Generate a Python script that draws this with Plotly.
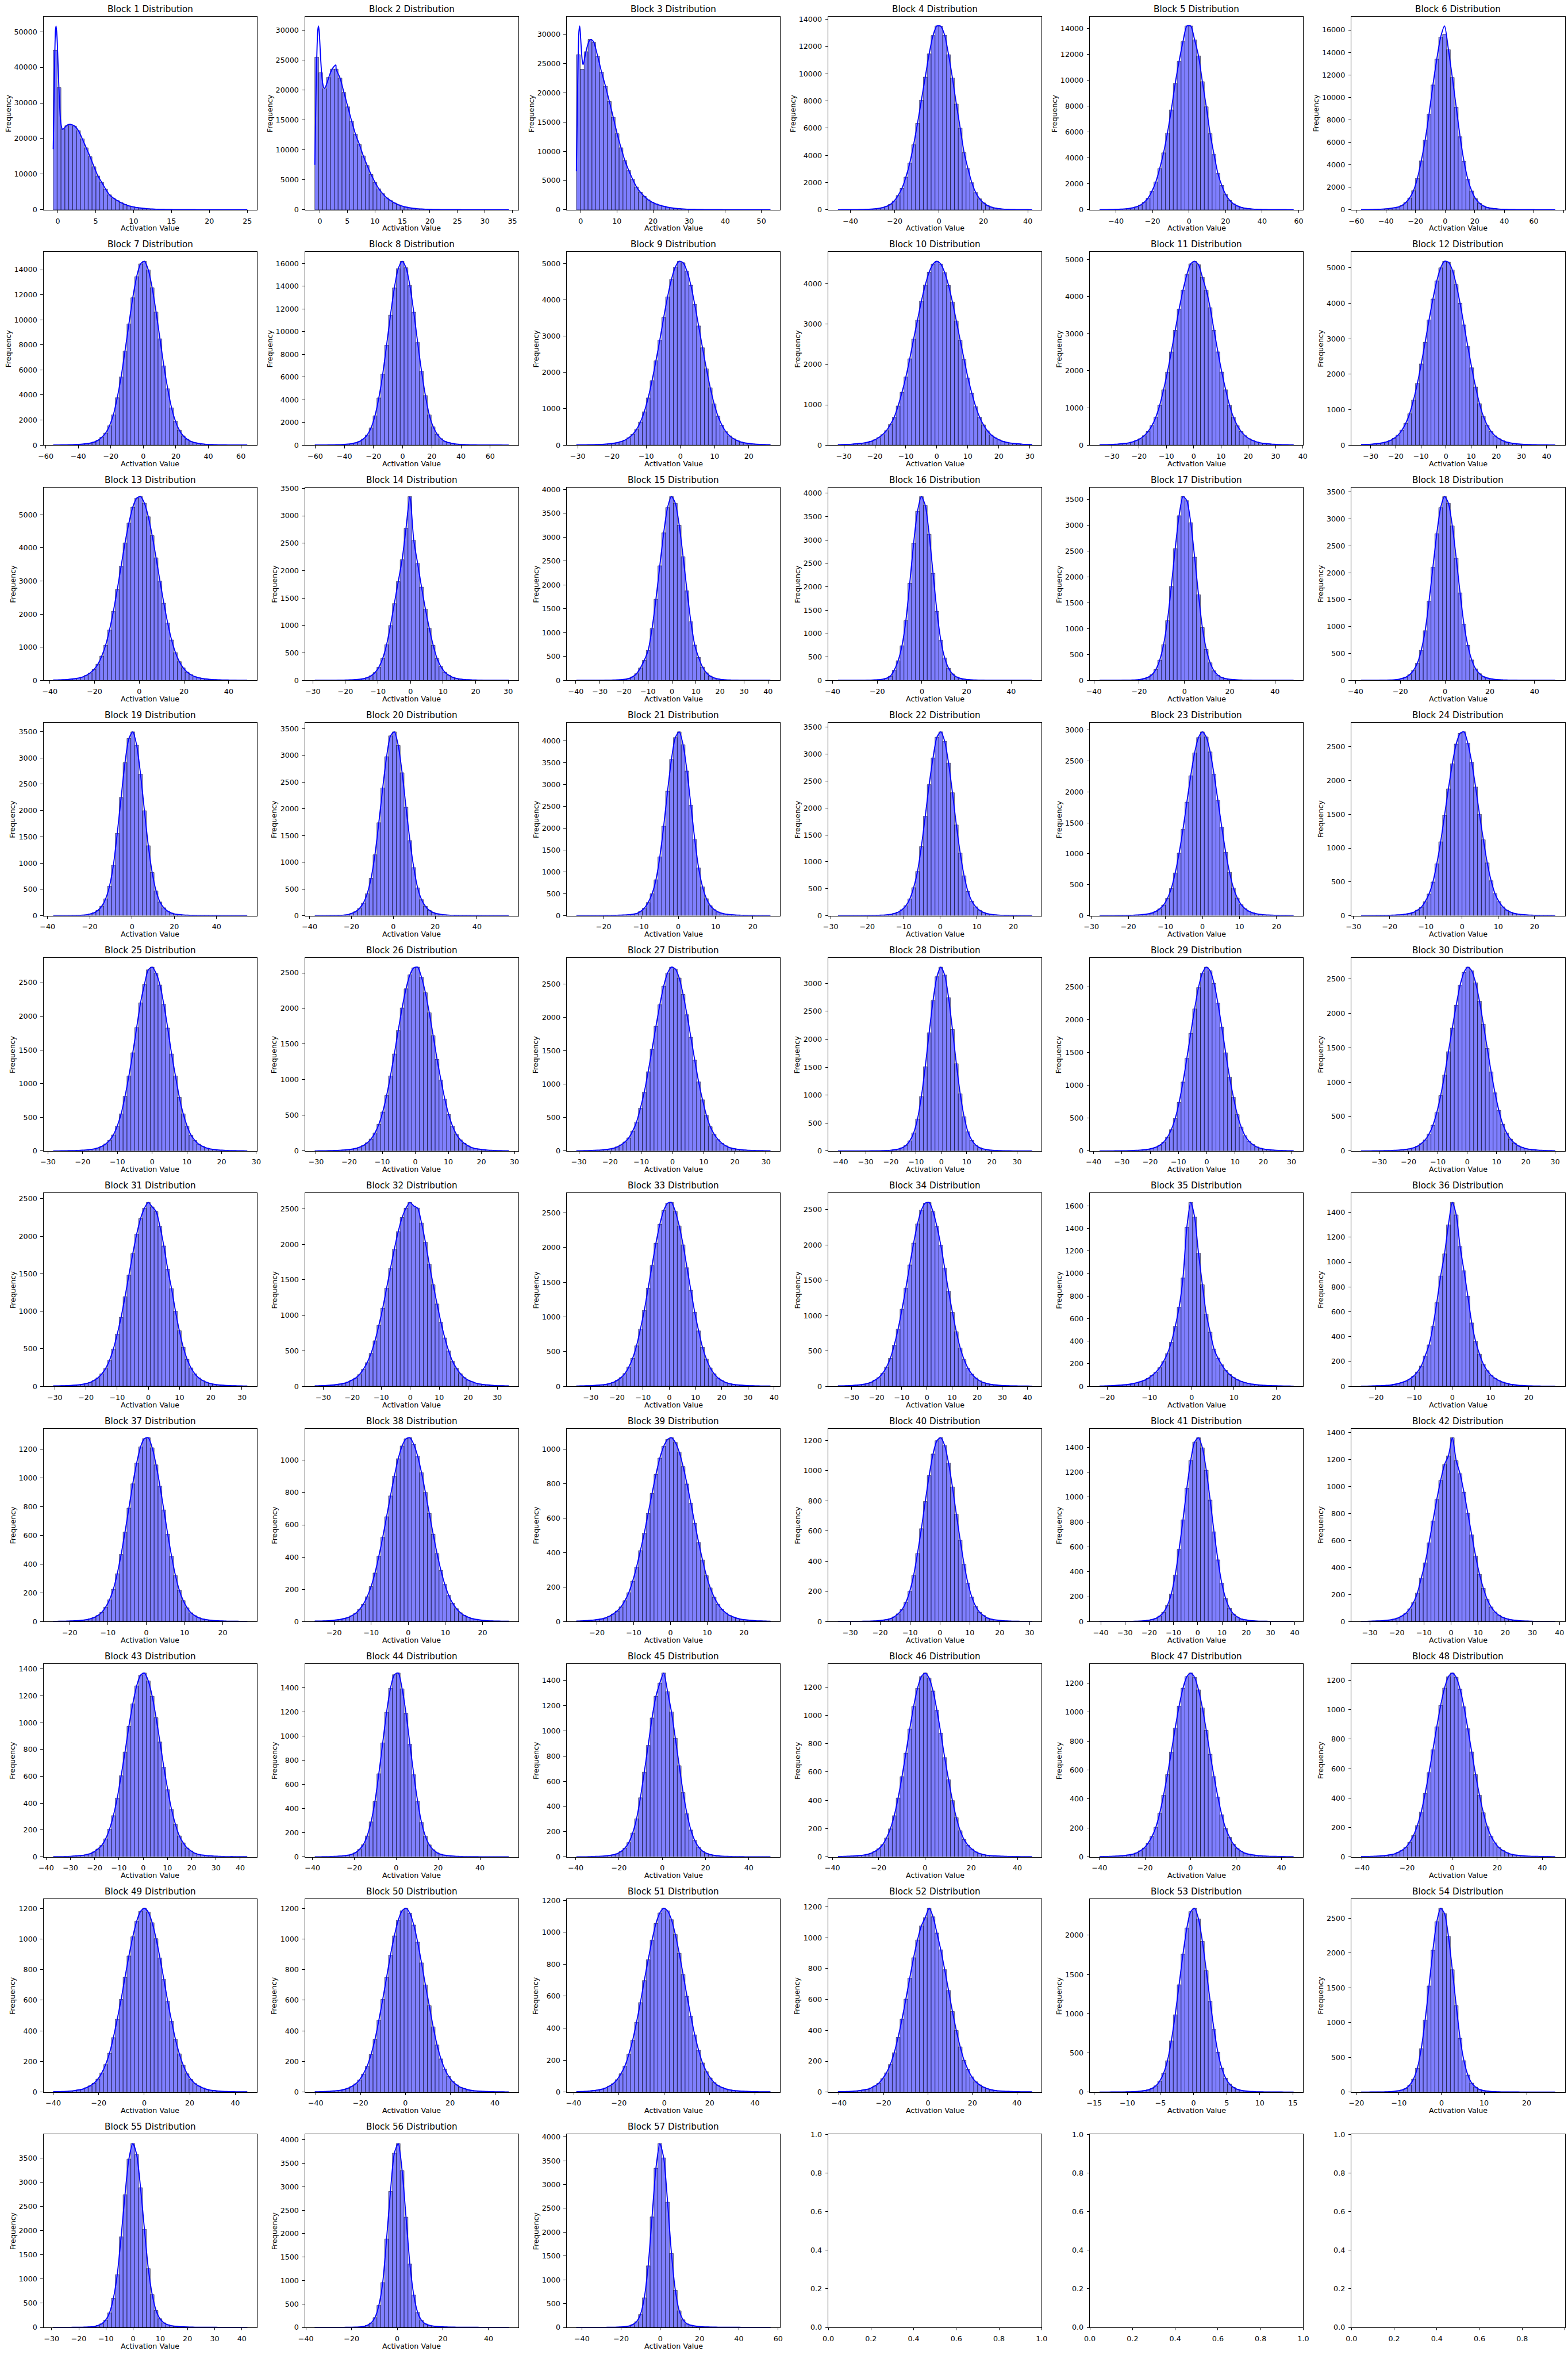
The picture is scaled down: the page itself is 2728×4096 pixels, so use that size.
import plotly.graph_objects as go

# ---------------- data ----------------
LO = [-0.6, -0.92, -1.21, -45.6, -49.0, -56.8, -55.4, -60.3, -30.4, -31.9, -34.5, -33.8,
      -38.5, -29.4, -39.8, -37.6, -37.5, -37.5, -37.3, -37.5, -27.3, -28.0, -27.8, -27.9,
      -28.5, -30.4, -30.8, -41.0, -37.9, -36.2, -30.5, -32.9, -35.5, -35.4, -21.8, -23.9,
      -24.3, -25.2, -25.6, -34.1, -40.5, -33.2, -37.1, -38.9, -39.7, -37.6, -40.0, -40.4,
      -40.0, -40.4, -38.8, -40.5, -14.2, -18.9, -29.4, -36.1, -42.8]
HI = [25.0, 34.35, 52.5, 41.9, 57.2, 74.4, 63.9, 72.8, 26.3, 30.7, 36.6, 43.4,
      48.3, 30.2, 41.0, 49.3, 48.2, 49.2, 54.5, 55.2, 24.7, 25.1, 24.6, 25.7,
      27.4, 28.3, 31.4, 35.9, 30.7, 30.0, 31.7, 34.0, 38.6, 41.8, 24.1, 26.9,
      26.4, 27.1, 27.2, 30.8, 39.5, 38.4, 42.9, 53.8, 50.0, 46.3, 45.3, 45.7,
      45.3, 46.2, 46.8, 46.8, 15.1, 26.7, 42.0, 48.9, 56.1]

B01 = [44800,34300,22700,23600,23800,23500,22200,19900,17400,14900,12100,9500,7700,5800,4200,3300,2600,2000,1500,1100,
       850,650,500,380,290,220,170,130,100,80,60,45,35,28,22,17,13,10,8,6,5,4,3,2,2,1,1,1,1,1]
B02 = [25500,22900,20200,22100,23500,23500,22000,19600,17200,14800,12600,10900,9000,7400,5900,4600,3500,2700,2000,1550,
       1150,850,620,450,330,240,175,130,95,70,52,38,28,21,16,12,9,7,5,4,3,3,2,2,1,1,1,1,1,1]
B03 = [26500,24000,27000,29100,28600,26200,23500,21100,18500,15800,13000,10600,8400,6700,5200,3900,3000,2300,1700,1300,
       1000,780,600,450,340,250,190,140,105,80,60,45,34,26,20,15,11,8,6,5,4,3,2,2,1,1,1,1,1,1]
B04 = [3,4,6,8,11,15,22,32,48,70,105,160,250,400,650,1050,1580,2400,3430,4780,6350,8050,9750,11450,12800,
       13500,13480,12820,11390,9680,7770,6000,4200,3020,1990,1270,810,510,320,200,125,80,52,34,22,15,10,7,5,3]
B05 = [7,11,17,25,35,50,70,100,150,230,360,580,900,1440,2150,3180,4400,5930,7720,9760,11470,12990,14200,14200,13130,
       11890,9900,7960,5880,4270,2810,1880,1180,740,460,300,190,125,85,58,40,28,20,14,10,7,5,4,3,2]
B06 = [6,12,20,30,45,65,90,130,180,240,380,650,1050,1700,2800,4350,6200,8500,11100,13400,15360,15620,14240,11770,9130,
       6500,4320,2720,1680,990,590,350,210,140,95,65,45,32,23,17,12,9,7,5,4,3,2,2,1,1]
B07 = [12,13,16,24,29,40,53,74,107,156,235,380,620,960,1540,2410,3780,5440,7510,9670,11760,13440,14460,14670,13980,
       12550,10620,8480,6320,4500,2970,1910,1190,735,470,287,188,130,90,59,45,32,25,18,15,12,10,7,6,5]
B08 = [8,10,13,17,21,30,40,58,86,130,195,320,535,890,1520,2580,4160,6250,8800,11450,13850,15550,16200,15630,14060,
       11710,9040,6510,4370,2660,1620,970,570,330,210,150,88,60,43,31,23,18,13,10,8,7,5,4,3,3]
B09 = [5,6,8,10,12,15,20,26,36,49,66,96,137,203,294,431,634,918,1300,1775,2320,2890,3510,4080,4560,
       4900,5060,5020,4790,4400,3870,3280,2680,2100,1575,1135,795,548,370,254,177,122,82,58,46,32,23,18,14,11]
B10 = [11,14,17,22,30,41,50,68,91,132,187,260,360,510,693,971,1310,1690,2140,2630,3100,3570,3970,4290,4490,
       4560,4490,4280,3960,3550,3080,2600,2125,1665,1285,953,693,502,356,251,182,132,91,68,50,39,30,22,17,14]
B11 = [9,11,14,18,24,33,44,59,84,124,173,252,366,525,752,1070,1490,1965,2510,3090,3660,4170,4590,4880,4950,
       4860,4520,4170,3700,3090,2510,1965,1490,1070,752,525,366,252,173,124,84,59,44,33,24,18,14,11,9,8]
B12 = [15,19,24,34,46,62,88,130,192,281,421,614,884,1270,1740,2290,2900,3530,4120,4630,5000,5185,5160,4940,4530,
       4000,3390,2780,2180,1640,1170,811,560,385,260,182,125,83,60,44,31,23,18,15,11,9,7,6,5,4]
B13 = [12,15,19,25,36,50,70,100,150,222,328,489,734,1060,1520,2085,2740,3450,4150,4750,5230,5500,5550,5350,4940,
       4370,3700,3000,2330,1730,1220,840,567,378,250,172,111,78,56,41,29,22,17,13,11,8,6,5,4,4]
B14 = [1,1,2,2,3,3,4,5,7,10,14,20,30,49,84,142,240,400,650,1000,1400,1800,2200,2770,3350,
       2550,2130,1700,1300,950,640,400,250,150,95,58,36,23,16,11,8,6,4,3,3,2,2,1,1,1]
B15 = [1,1,1,2,2,2,3,4,5,7,10,14,22,40,75,140,260,420,631,1086,1700,2400,3090,3620,3850,
       3710,3250,2590,1875,1230,740,480,280,160,90,50,30,18,12,8,5,4,3,2,2,1,1,1,1,1]
B16 = [1,1,1,2,2,3,3,4,6,10,15,25,45,90,220,420,740,1277,2075,2930,3615,3930,3740,3125,2290,
       1475,860,480,260,140,75,45,28,18,12,8,6,4,3,3,2,2,2,1,1,1,1,1,1,1]
B17 = [1,1,1,2,2,3,4,5,7,11,20,35,60,110,210,390,690,1154,1814,2545,3180,3550,3470,3045,2380,
       1654,1020,600,340,185,100,55,34,22,15,10,7,5,4,3,3,2,2,2,1,1,1,1,1,1]
B18 = [1,1,2,2,3,4,5,7,11,18,35,58,105,185,320,560,923,1470,2100,2725,3210,3415,3290,2870,2270,
       1625,1040,650,380,215,125,70,44,28,18,12,9,6,5,4,3,3,2,2,2,1,1,1,1,1]
B19 = [1,1,2,2,3,4,6,9,15,32,55,100,180,320,560,959,1565,2247,2910,3370,3495,3240,2690,1995,1330,
       820,470,260,150,85,50,30,20,14,10,7,6,5,4,4,3,3,3,2,2,2,2,1,1,1]
B20 = [1,2,2,3,4,5,7,11,18,42,75,135,235,410,700,1140,1740,2390,2975,3365,3440,3185,2675,2030,1405,
       900,520,300,175,100,60,36,24,16,11,8,6,5,4,4,3,3,3,2,2,2,2,1,1,1]
B21 = [1,1,2,2,2,3,3,4,5,7,9,12,16,22,32,48,95,170,300,500,820,1344,2045,2845,3570,
       4070,4200,3905,3305,2525,1740,1090,660,390,230,140,85,55,36,25,17,12,9,7,5,4,3,3,2,2]
B22 = [1,1,1,2,2,2,3,3,4,5,7,10,14,22,40,65,110,185,310,520,821,1283,1847,2435,2930,
       3315,3415,3240,2835,2285,1686,1163,740,450,270,165,100,60,36,24,16,11,8,6,4,3,3,2,2,1]
B23 = [1,1,2,2,3,3,4,5,7,10,13,19,29,43,70,110,172,279,440,690,1010,1393,1833,2260,2630,
       2878,2970,2887,2646,2284,1860,1430,1025,701,448,285,178,113,71,45,30,21,14,10,8,6,4,3,3,2]
B24 = [1,1,2,2,3,3,4,6,8,11,15,23,33,49,82,125,207,321,498,767,1093,1485,1877,2247,2540,
       2698,2720,2551,2268,1904,1501,1123,781,517,326,209,131,82,52,33,23,16,11,8,6,5,4,3,3,2]
B25 = [2,2,3,4,5,6,8,11,15,21,30,44,68,104,156,238,369,551,811,1114,1458,1832,2200,2471,2690,
       2730,2640,2465,2176,1826,1440,1114,797,551,369,235,156,101,68,44,30,21,15,11,8,6,5,4,3,2]
B26 = [2,3,3,5,6,7,10,13,18,25,35,52,77,114,168,253,374,547,777,1053,1362,1690,2007,2276,2472,
       2570,2580,2438,2221,1940,1618,1287,996,728,511,348,232,157,108,72,46,32,25,17,12,9,7,5,4,3]
B27 = [3,4,5,7,9,11,15,21,29,41,61,91,135,196,298,433,640,883,1187,1524,1868,2191,2470,2666,2755,
       2727,2592,2346,2042,1703,1361,1035,767,535,364,251,171,116,77,50,35,26,18,14,10,8,6,5,4,3]
B28 = [1,1,1,1,1,1,2,2,3,3,4,6,9,13,21,33,56,99,181,322,572,974,1507,2115,2691,
       3119,3290,3149,2744,2175,1563,1023,612,342,191,105,59,35,22,14,10,7,5,4,3,2,2,2,1,1]
B29 = [1,1,2,2,3,3,4,5,7,9,13,18,26,38,56,87,134,210,325,496,739,1050,1411,1792,2164,
       2489,2710,2800,2744,2551,2251,1887,1495,1126,818,554,364,232,148,98,62,41,28,20,14,10,8,6,4,3]
B30 = [1,2,2,3,3,4,5,6,9,11,16,23,31,45,69,107,160,246,374,558,804,1103,1442,1786,2117,
       2406,2595,2670,2617,2443,2176,1842,1490,1148,844,587,390,262,174,115,75,51,33,24,17,12,9,7,5,4]
B31 = [4,5,7,8,10,14,19,26,36,51,77,111,165,237,344,496,695,920,1193,1481,1767,2026,2234,2372,2450,
       2390,2330,2130,1870,1560,1300,1000,740,520,360,245,165,111,77,53,36,26,19,14,10,8,7,5,4,3]
B32 = [6,8,10,13,17,23,31,41,59,85,115,164,238,333,463,640,858,1100,1382,1659,1933,2179,2378,2509,2590,
       2540,2510,2300,2030,1720,1430,1160,900,680,497,351,253,177,123,87,64,44,32,24,19,14,10,8,7,5]
B33 = [4,5,7,8,11,15,20,27,38,56,85,125,183,276,403,583,824,1094,1415,1741,2062,2335,2533,2639,2650,
       2520,2311,2038,1709,1383,1065,798,562,392,265,180,119,82,53,37,27,20,15,11,8,7,5,4,3,3]
B34 = [5,6,8,10,15,20,27,38,55,86,122,182,270,395,582,809,1089,1388,1716,2025,2296,2491,2590,2600,2470,
       2259,1994,1672,1344,1045,772,541,377,255,172,117,78,52,36,26,19,14,10,8,6,5,4,3,3,2]
B35 = [2,3,4,6,8,10,13,17,22,30,40,52,70,95,125,165,220,290,390,530,700,960,1410,1630,1500,
       1180,900,640,480,330,250,190,140,105,78,58,43,32,24,18,14,10,8,6,5,4,3,2,2,1]
B36 = [1,1,2,3,4,5,7,9,15,21,30,41,58,81,115,163,244,333,481,673,888,1066,1300,1480,1380,
       1125,930,725,510,362,259,178,126,89,64,46,33,24,16,12,8,6,4,3,2,2,1,1,1,1]
B37 = [1,2,2,3,4,5,6,9,13,19,28,42,64,100,151,225,333,467,623,790,959,1103,1216,1274,1280,
       1210,1091,943,777,608,454,320,218,146,96,61,41,27,18,13,9,6,5,4,3,2,2,2,1,1]
B38 = [3,3,4,5,7,10,13,18,25,36,51,75,107,154,217,301,405,522,650,779,902,1010,1089,1133,1140,
       1099,1026,923,801,671,542,422,317,230,162,114,80,55,38,27,18,14,10,7,5,4,3,3,2,2]
B39 = [3,4,5,7,9,12,15,21,31,44,61,85,121,167,234,315,411,512,627,742,852,947,1015,1055,1065,
       1038,982,898,797,685,569,458,357,266,195,141,100,71,50,35,26,18,13,10,8,6,4,4,3,2]
B40 = [1,1,1,1,1,1,2,2,3,4,6,9,13,19,31,51,79,127,200,305,451,615,795,967,1110,
       1198,1218,1166,1050,892,711,539,379,254,162,100,62,40,24,16,11,8,5,4,3,2,2,1,1,1]
B41 = [1,1,1,1,1,1,1,2,2,3,4,6,10,16,25,44,74,130,222,374,580,817,1072,1295,1443,
       1478,1397,1217,977,721,496,309,185,107,61,37,21,14,9,6,4,3,3,2,2,1,1,1,1,1]
B42 = [2,2,3,4,5,6,9,12,18,26,41,61,94,141,211,322,434,582,744,903,1044,1162,1226,1360,1190,
       1094,957,800,641,485,350,246,164,108,71,47,31,21,14,10,7,5,4,3,2,2,2,1,1,1]
B43 = [2,2,2,3,4,6,8,11,16,23,37,58,85,134,206,307,438,604,781,973,1140,1274,1354,1370,1311,
       1197,1037,856,667,500,352,241,156,104,66,44,27,18,13,9,7,5,4,3,2,2,2,1,1,1]
B44 = [1,1,2,2,3,4,6,9,13,21,35,61,100,173,289,458,687,942,1195,1394,1506,1520,1389,1186,932,
       679,458,284,170,99,59,34,21,13,9,6,4,3,2,2,2,2,1,1,1,1,1,1,1,1]
B45 = [1,1,1,2,3,4,5,7,11,16,25,42,69,113,189,302,469,673,885,1103,1275,1380,1460,1312,1151,
       942,724,511,342,213,130,77,46,28,18,12,8,5,4,3,2,2,2,1,1,1,1,1,1,1]
B46 = [2,3,4,5,6,9,12,17,25,39,57,86,133,198,291,416,567,733,904,1063,1192,1275,1300,1264,1173,
       1036,874,702,545,398,277,185,122,82,55,35,23,16,11,8,6,5,4,3,2,2,2,1,1,1]
B47 = [2,2,3,4,5,7,9,13,18,27,42,61,94,140,204,300,425,568,724,890,1041,1165,1245,1270,1240,
       1154,1029,874,709,554,413,290,196,135,88,58,39,25,18,13,9,7,5,4,3,3,2,2,1,1]
B48 = [2,2,3,4,5,7,10,14,19,30,44,64,98,145,213,305,431,573,728,884,1030,1148,1225,1250,1221,
       1140,1020,871,713,559,419,300,205,140,95,63,43,29,19,13,10,7,5,4,3,3,2,2,2,1]
B49 = [3,3,4,5,7,10,14,19,29,41,58,85,125,180,254,356,476,605,750,889,1014,1115,1180,1200,1175,
       1106,1002,876,736,592,463,344,250,176,120,83,56,40,28,19,13,10,7,5,4,3,3,2,2,2]
B50 = [2,3,4,5,7,9,12,17,25,37,54,79,118,170,246,344,469,605,749,894,1020,1122,1184,1200,1168,
       1091,979,844,700,564,426,308,217,150,102,70,48,32,23,15,11,8,6,5,4,3,2,2,2,1]
B51 = [3,4,5,7,10,13,18,26,38,53,78,115,163,236,324,437,560,698,828,951,1055,1121,1150,1134,1079,
       986,869,736,600,475,358,262,183,129,89,60,41,29,20,14,10,8,6,5,4,3,3,2,2,2]
B52 = [3,3,4,5,7,10,14,18,27,40,57,87,125,179,255,355,472,602,738,870,985,1076,1130,1190,1135,
       1030,921,793,658,522,399,293,206,146,99,67,47,32,22,15,11,8,6,5,4,3,3,2,2,2]
B53 = [1,1,1,2,2,2,3,4,6,8,12,19,28,47,80,139,240,400,653,985,1368,1758,2092,2301,2343,
       2207,1922,1549,1159,799,508,306,179,103,61,36,23,15,10,7,5,4,3,3,2,2,2,1,1,1]
B54 = [1,1,2,2,3,3,5,7,11,19,30,53,100,188,345,625,1036,1526,2040,2449,2642,2565,2239,1760,1243,
       774,451,246,130,72,38,23,15,9,6,4,3,3,2,2,2,1,1,1,1,1,1,1,1,1]
B55 = [1,1,2,2,2,3,3,4,7,11,17,40,75,150,300,600,1090,1873,2744,3481,3800,3572,2888,2029,1216,
       680,350,180,95,55,35,24,17,12,9,7,5,4,4,3,3,3,2,2,2,2,1,1,1,1]
B56 = [1,1,1,1,1,2,2,2,3,4,6,10,18,45,95,210,470,956,1886,2900,3716,3920,3344,2352,1352,
       690,320,150,75,45,30,20,14,10,8,6,5,4,4,3,3,3,2,2,2,2,1,1,1,1]
B57 = [1,1,1,1,1,2,2,2,3,4,6,9,15,28,60,120,270,620,1293,2320,3343,3860,3559,2629,1552,
       780,350,160,75,45,30,20,14,10,8,6,5,4,4,3,3,3,2,2,2,2,1,1,1,1]

COUNTS = [B01, B02, B03, B04, B05, B06, B07, B08, B09, B10, B11, B12, B13, B14, B15, B16, B17, B18, B19,
          B20, B21, B22, B23, B24, B25, B26, B27, B28, B29, B30, B31, B32, B33, B34, B35, B36, B37, B38,
          B39, B40, B41, B42, B43, B44, B45, B46, B47, B48, B49, B50, B51, B52, B53, B54, B55, B56, B57]

# density-curve points where it departs from the bar tops (spike near zero in blocks 1-3)
KDE1_X = [-0.6, -0.5, -0.4, -0.3, -0.22, -0.1, 0.05, 0.2, 0.35, 0.5, 0.62, 0.8, 1.05, 1.35, 1.65, 1.95]
KDE1_Y = [17000, 30000, 43000, 50500, 51600, 48500, 40000, 31500, 25500, 23200, 22600, 22800, 23400, 23900, 24000, 23800]
KDE2_X = [-0.92, -0.8, -0.65, -0.5, -0.35, -0.24, -0.1, 0.1, 0.3, 0.5, 0.7, 0.9, 1.3, 1.8, 2.3, 2.9]
KDE2_Y = [7500, 14000, 22000, 27500, 30200, 30700, 29500, 26000, 23000, 21200, 20400, 20300, 21200, 22600, 23600, 24200]
KDE3_X = [-1.21, -1.0, -0.75, -0.5, -0.28, -0.05, 0.2, 0.45, 0.65, 0.9, 1.3, 1.8, 2.3, 2.8, 3.3]
KDE3_Y = [6600, 15000, 25000, 30500, 31400, 29500, 27000, 25300, 24800, 25300, 26600, 27900, 28800, 29100, 28900]
KDE_HEAD = {0: (KDE1_X, KDE1_Y), 1: (KDE2_X, KDE2_Y), 2: (KDE3_X, KDE3_Y)}
KDE_PEAK = {5: (21, 16350)}   # block 6: curve peak above the bar top

X_DTICK = [5, 5, 10, 20, 20, 20, 20, 20, 10, 10, 10, 10,
           20, 10, 10, 20, 20, 20, 20, 20, 10, 10, 10, 10,
           10, 10, 10, 10, 10, 10, 10, 10, 10, 10, 10, 10,
           10, 10, 10, 10, 10, 10, 10, 20, 20, 20, 20, 20,
           20, 20, 20, 20, 5, 10, 10, 20, 20]
Y_DTICK = [10000, 5000, 5000, 2000, 2000, 2000, 2000, 2000, 1000, 1000, 1000, 1000,
           1000, 500, 500, 500, 500, 500, 500, 500, 500, 500, 500, 500,
           500, 500, 500, 500, 500, 500, 500, 500, 500, 500, 200, 200,
           200, 200, 200, 200, 200, 200, 200, 200, 200, 200, 200, 200,
           200, 200, 200, 200, 500, 500, 500, 500, 500]
EMPTY_TICKS = [0.0, 0.2, 0.4, 0.6, 0.8, 1.0]
TITLES = ["Block %d Distribution" % (i + 1) for i in range(len(COUNTS))]
X_LABEL = "Activation Value"
Y_LABEL = "Frequency"

# ---------------- layout (reference pixel geometry, scaled to the window) ----------------
W_REF, H_REF = 2990.0, 4490.0
S = 0.912
COL0, COLSTEP, AXW = 83.0, 498.8, 407.0
ROW0, ROWSTEP, AXH = 32.0, 448.6, 368.0
FONT = "DejaVu Sans"
TICK_FS = 13.9 * S
TITLE_FS = 16.67 * S
LW = 1.0
DIGIT_W = 8.84  # reference px per digit of tick labels

fig = go.Figure()
layout = {}
annotations = []

for i in range(60):
    r, c = divmod(i, 6)
    n = i + 1
    left = COL0 + c * COLSTEP
    top = ROW0 + r * ROWSTEP
    xd = [left / W_REF, (left + AXW) / W_REF]
    yd = [1 - (top + AXH) / H_REF, 1 - top / H_REF]
    xname = 'xaxis' if n == 1 else 'xaxis%d' % n
    yname = 'yaxis' if n == 1 else 'yaxis%d' % n
    xr = 'x' if n == 1 else 'x%d' % n
    yr = 'y' if n == 1 else 'y%d' % n
    common = dict(showline=True, mirror=True, linecolor='black', linewidth=LW,
                  ticks='outside', ticklen=3.5 * 1.389 * S, tickwidth=LW, tickcolor='black',
                  showgrid=False, zeroline=False, automargin=False, ticklabelstandoff=3,
                  tickfont=dict(family=FONT, size=TICK_FS, color='black'))
    if i >= len(COUNTS):
        # empty subplot: an invisible trace so the axes frame is drawn
        fig.add_trace(go.Scatter(x=[None], y=[None], mode='lines', xaxis=xr, yaxis=yr,
                                 showlegend=False, hoverinfo='skip'))
        tt = ['%.1f' % v for v in EMPTY_TICKS]
        layout[xname] = dict(domain=xd, anchor=yr, range=[0, 1], tickmode='array',
                             tickvals=EMPTY_TICKS, ticktext=tt, **common)
        layout[yname] = dict(domain=yd, anchor=xr, range=[0, 1], tickmode='array',
                             tickvals=EMPTY_TICKS, ticktext=tt, **common)
        continue

    cnt = COUNTS[i]
    lo, hi = LO[i], HI[i]
    nb = len(cnt)
    w = (hi - lo) / nb
    centers = [lo + (k + 0.5) * w for k in range(nb)]

    fig.add_trace(go.Bar(x=centers, y=cnt, width=w, xaxis=xr, yaxis=yr, showlegend=False,
                         marker=dict(color='rgba(0,0,255,0.5)',
                                     line=dict(color='rgba(0,0,0,0.75)', width=0.7)),
                         hoverinfo='skip'))

    kvals = list(cnt)
    if i in KDE_PEAK:
        kvals[KDE_PEAK[i][0]] = KDE_PEAK[i][1]
    if i in KDE_HEAD:
        hx, hy = KDE_HEAD[i]
        kx = list(hx) + [cc for cc in centers if cc > hx[-1]] + [hi]
        ky = list(hy) + [v for cc, v in zip(centers, kvals) if cc > hx[-1]] + [kvals[-1]]
    else:
        kx = [lo] + centers + [hi]
        ky = [kvals[0]] + kvals + [kvals[-1]]
    fig.add_trace(go.Scatter(x=kx, y=ky, mode='lines', xaxis=xr, yaxis=yr, showlegend=False,
                             line=dict(color='#0000ff', width=1.9, shape='spline', smoothing=0.7),
                             hoverinfo='skip'))

    span = hi - lo
    ymax = max(max(cnt), max(ky))
    ytop = 1.05 * ymax
    layout[xname] = dict(domain=xd, anchor=yr, range=[lo - 0.05 * span, hi + 0.05 * span],
                         tick0=0, dtick=X_DTICK[i], tickformat='d', **common)
    layout[yname] = dict(domain=yd, anchor=xr, range=[0, ytop],
                         tick0=0, dtick=Y_DTICK[i], tickformat='d', **common)

    maxtick = int(ytop // Y_DTICK[i]) * Y_DTICK[i]
    nd = len(str(maxtick))
    xc = (left + AXW / 2) / W_REF
    annotations.append(dict(text=TITLES[i], x=xc, y=yd[1], xref='paper', yref='paper',
                            xanchor='center', yanchor='middle', yshift=13, showarrow=False,
                            font=dict(family=FONT, size=TITLE_FS, color='black')))
    annotations.append(dict(text=X_LABEL, x=xc, y=yd[0], xref='paper', yref='paper',
                            xanchor='center', yanchor='middle', yshift=-32, showarrow=False,
                            font=dict(family=FONT, size=TICK_FS, color='black')))
    annotations.append(dict(text=Y_LABEL, x=(left - 23.4 - nd * DIGIT_W) / W_REF,
                            y=(yd[0] + yd[1]) / 2, xref='paper', yref='paper', textangle=-90,
                            xanchor='center', yanchor='middle', showarrow=False,
                            font=dict(family=FONT, size=TICK_FS, color='black')))

fig.update_layout(width=2728, height=4096, margin=dict(l=0, r=0, t=0, b=0),
                  paper_bgcolor='white', plot_bgcolor='white', barmode='overlay',
                  showlegend=False, annotations=annotations,
                  font=dict(family=FONT, color='black'), **layout)
fig.write_html("out.html")
